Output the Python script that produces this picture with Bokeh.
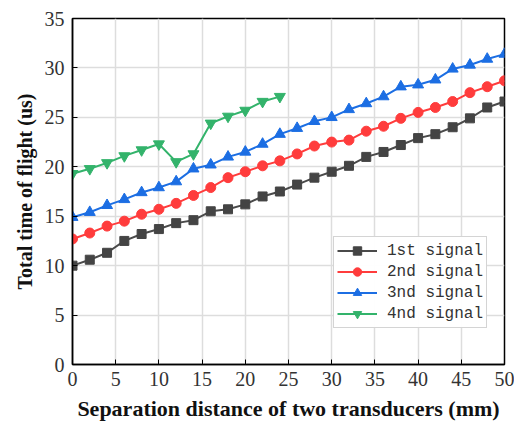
from bokeh.plotting import figure
from bokeh.models import Range1d, Legend, LegendItem, FixedTicker
from bokeh.embed import file_html
from bokeh.resources import INLINE

x_all = list(range(0, 51, 2))
x_green = list(range(0, 25, 2))
s1 = [10.0, 10.6, 11.3, 12.5, 13.2, 13.7, 14.3, 14.6, 15.5, 15.7, 16.2, 17.0, 17.5,
      18.2, 18.9, 19.5, 20.1, 21.0, 21.5, 22.2, 22.9, 23.3, 24.0, 24.9, 26.0, 26.6]
s2 = [12.7, 13.3, 14.0, 14.5, 15.2, 15.7, 16.3, 17.1, 17.9, 18.9, 19.5, 20.1, 20.6,
      21.3, 22.1, 22.5, 22.7, 23.6, 24.1, 24.9, 25.5, 26.0, 26.6, 27.5, 28.1, 28.7]
s3 = [14.9, 15.4, 16.1, 16.7, 17.4, 17.9, 18.5, 19.8, 20.2, 21.0, 21.5, 22.3, 23.3,
      23.9, 24.6, 25.0, 25.8, 26.4, 27.1, 28.1, 28.3, 28.8, 29.9, 30.3, 30.9, 31.4]
s4 = [19.3, 19.8, 20.4, 21.1, 21.7, 22.3, 20.5, 21.3, 24.4, 25.1, 25.7, 26.6, 27.1]
labels = ["1st signal", "2nd signal", "3nd signal", "4nd signal"]
x_ticks = list(range(0, 51, 5))
y_ticks = list(range(0, 36, 5))

p = figure(width=514, height=428, output_backend="svg", toolbar_location=None,
           x_range=Range1d(0, 50), y_range=Range1d(0, 35),
           min_border_left=72, min_border_right=10, min_border_top=18, min_border_bottom=64)
p.outline_line_color = "black"
p.outline_line_width = 1.5
p.background_fill_color = "white"

colors = ["#4a4a4a", "#ff3c3c", "#1c6ee3", "#33b36b"]
r = []
r.append((p.line(x_all, s1, color=colors[0], line_width=2),
          p.scatter(x_all, s1, marker="square", size=9, color="#444444")))
r.append((p.line(x_all, s2, color=colors[1], line_width=2),
          p.scatter(x_all, s2, marker="circle", size=10, color=colors[1])))
r.append((p.line(x_all, s3, color=colors[2], line_width=2),
          p.scatter(x_all, s3, marker="triangle", size=11, color=colors[2])))
r.append((p.line(x_green, s4, color=colors[3], line_width=2),
          p.scatter(x_green, s4, marker="inverted_triangle", size=11, color=colors[3])))
items = [LegendItem(label=lab, renderers=list(rr)) for lab, rr in zip(labels, r)]

legend = Legend(items=items, location=(261, 36))
legend.label_text_font = "'Liberation Mono', monospace"
legend.label_text_font_size = "16px"
legend.label_text_color = "#333333"
legend.border_line_color = "#aaaaaa"
legend.border_line_width = 1.5
legend.spacing = 0
legend.padding = 3
legend.margin = 0
legend.glyph_width = 40
legend.glyph_height = 21
legend.label_height = 21
legend.label_standoff = 10
p.add_layout(legend, "center")

for ax in (p.xaxis[0], p.yaxis[0]):
    ax.major_label_text_font = "'Liberation Serif', serif"
    ax.major_label_text_font_size = "20px"
    ax.major_label_text_color = "#333333"
    ax.axis_label_text_font = "'Liberation Serif', serif"
    ax.axis_label_text_font_style = "bold"
    ax.axis_label_text_color = "#111111"
    ax.major_tick_in = 5
    ax.major_tick_out = 0
    ax.minor_tick_in = 0
    ax.minor_tick_out = 0
    ax.axis_line_color = "black"
    ax.axis_line_width = 1.5

p.xaxis.ticker = FixedTicker(ticks=x_ticks)
p.yaxis.ticker = FixedTicker(ticks=y_ticks)
p.xaxis.axis_label = "Separation distance of two transducers (mm)"
p.yaxis.axis_label = "Total time of flight (us)"
p.xaxis.axis_label_text_font_size = "22px"
p.yaxis.axis_label_text_font_size = "20px"
p.xaxis.major_label_standoff = 7
p.yaxis.major_label_standoff = 8
p.xaxis.axis_label_standoff = 7
p.yaxis.axis_label_standoff = 6

p.xgrid.ticker = FixedTicker(ticks=x_ticks)
p.ygrid.ticker = FixedTicker(ticks=y_ticks)
p.grid.grid_line_color = "#dddddd"
p.grid.grid_line_width = 1.5

open("out.html", "w").write(file_html(p, INLINE))
